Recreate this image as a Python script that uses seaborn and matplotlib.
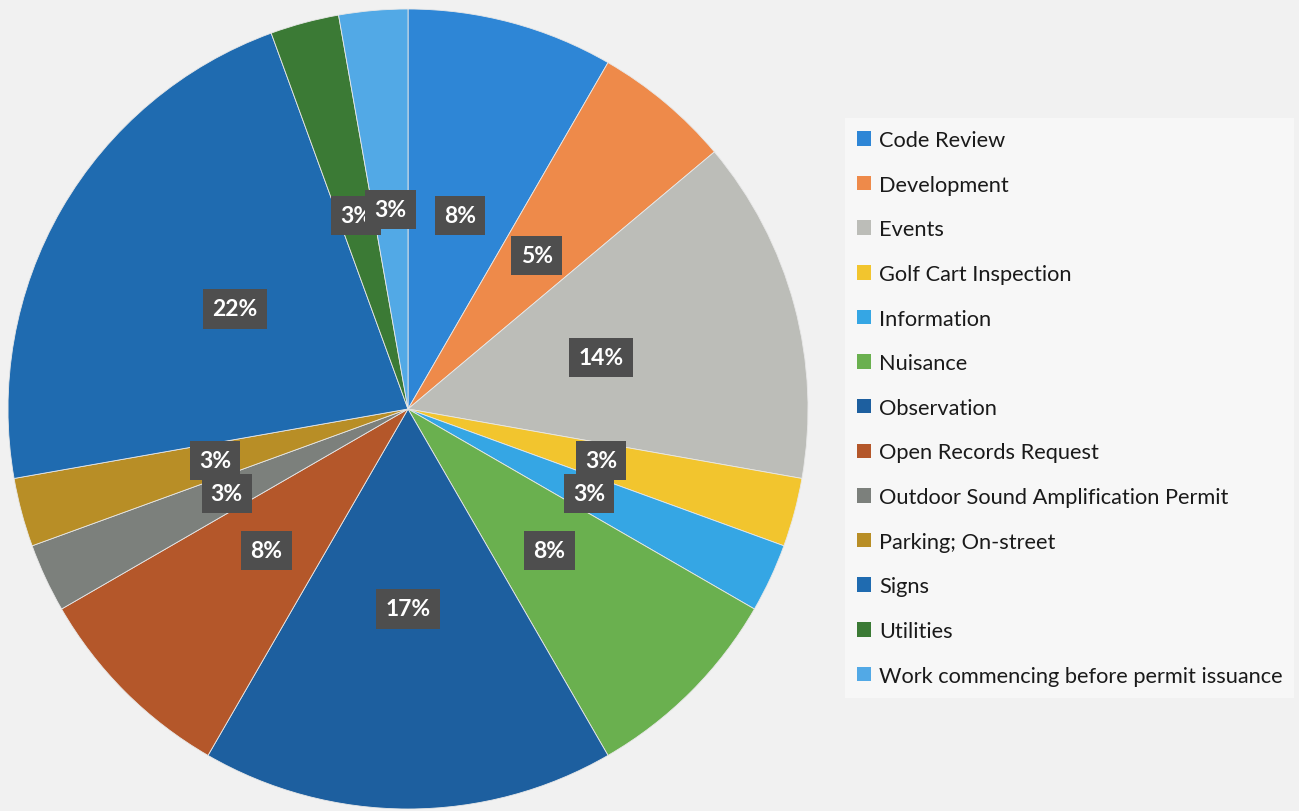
import numpy as np
import matplotlib
matplotlib.use("Agg")
import matplotlib.pyplot as plt
import seaborn as sns

# data (counts; shown labels as printed on the chart)
categories = [
    "Code Review", "Development", "Events", "Golf Cart Inspection",
    "Information", "Nuisance", "Observation", "Open Records Request",
    "Outdoor Sound Amplification Permit", "Parking; On-street", "Signs",
    "Utilities", "Work commencing before permit issuance",
]
counts = [3, 2, 5, 1, 1, 3, 6, 3, 1, 1, 8, 1, 1]
pct_labels = ["8%", "5%", "14%", "3%", "3%", "8%", "17%", "8%", "3%", "3%", "22%", "3%", "3%"]

colors = [
    "#2E86D6", "#EE8A4A", "#BCBDB8", "#F2C52E", "#35A6E4", "#6AB04F",
    "#1D5F9F", "#B4572A", "#7C807C", "#B88E26", "#1F6BB0", "#3B7A35",
    "#52A9E6",
]

sns.set_theme(style="white")
plt.rcParams["font.family"] = ["Lato", "DejaVu Sans"]

fig = plt.figure(figsize=(12.99, 8.12), dpi=100)
fig.patch.set_facecolor("#F1F1F1")

# pie axes: circle of 400px radius centred near (408, 410)
ax = fig.add_axes([8 / 1299, 2 / 812, 800 / 1299, 800 / 812])
wedges, _ = ax.pie(
    counts,
    colors=colors,
    startangle=90,
    counterclock=False,
    radius=1,
    wedgeprops=dict(edgecolor="#E8E8E8", linewidth=0.6),
)
ax.set_xlim(-1, 1)
ax.set_ylim(-1, 1)
ax.set_aspect("equal")

# data labels at half radius, dark boxes
for w, lab in zip(wedges, pct_labels):
    ang = np.deg2rad((w.theta1 + w.theta2) / 2)
    ax.text(
        0.5 * np.cos(ang), 0.5 * np.sin(ang), lab,
        ha="center", va="center", color="white",
        fontsize=16.5, fontweight="bold",
        bbox=dict(boxstyle="square,pad=0.4", facecolor="#4E4E4E",
                  edgecolor="none"),
        zorder=5,
    )

# legend on the right
leg = fig.legend(
    wedges, categories,
    loc="upper left",
    bbox_to_anchor=(845 / 1299, 1 - 119 / 812),
    frameon=True,
    fontsize=15.7,
    handlelength=0.65,
    handleheight=0.65,
    handletextpad=0.35,
    labelspacing=1.13,
    borderpad=0.55,
    borderaxespad=0,
)
leg.get_frame().set_facecolor("#F9F9F9")
leg.get_frame().set_edgecolor("none")
leg.get_frame().set_boxstyle("square", pad=0)
for h in leg.legend_handles:
    h.set_edgecolor("none")
for t in leg.get_texts():
    t.set_color("#1A1A1A")

fig.savefig("out.png", dpi=100, facecolor=fig.get_facecolor())
